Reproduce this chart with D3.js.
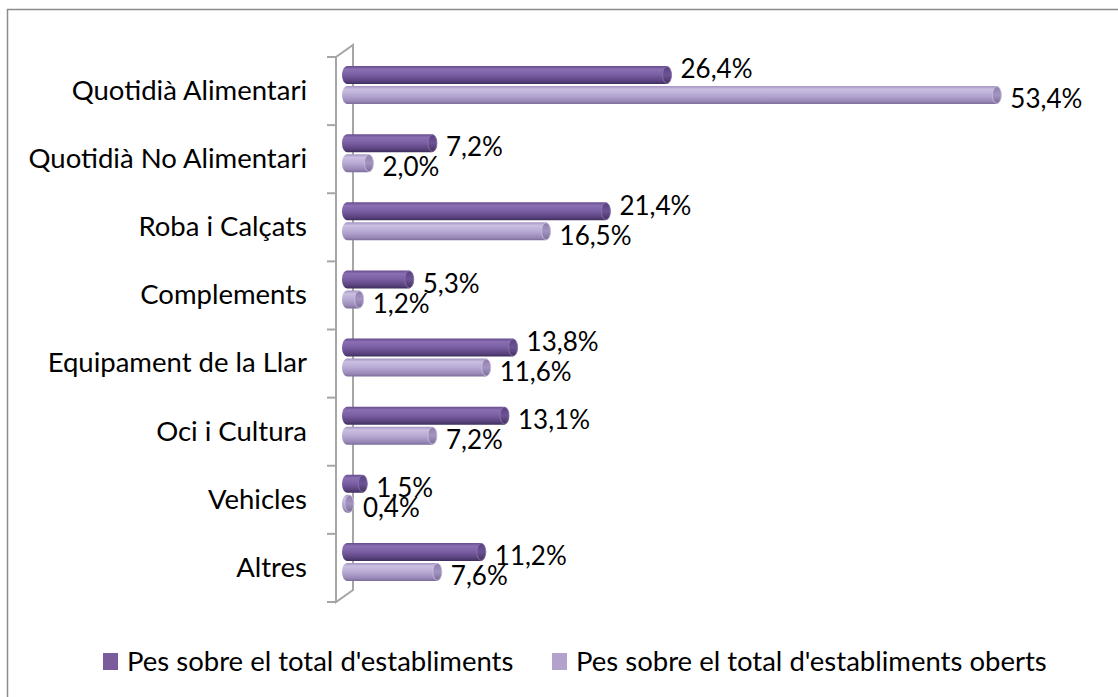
<!DOCTYPE html>
<html lang="ca">
<head>
<meta charset="utf-8">
<script src="https://d3js.org/d3.v7.min.js"></script>
<style>
  body { margin: 0; background: #fff; }
  text { font-family: Lato, "Open Sans", sans-serif; font-size: 26px; fill: #000; }
  .cat text, .leg text { font-size: 27.5px; }
  .frame { fill: none; stroke: #8c8c8c; stroke-width: 1.5px; }
  .wall { fill: none; stroke: #a6a6a6; stroke-width: 2px; }
</style>
</head>
<body>
<div id="chart"></div>
<script>
// data
var categories = ["Quotidià Alimentari", "Quotidià No Alimentari", "Roba i Calçats", "Complements",
                  "Equipament de la Llar", "Oci i Cultura", "Vehicles", "Altres"];
var pesTotal  = [26.4, 7.2, 21.4, 5.3, 13.8, 13.1, 1.5, 11.2];
var pesOberts = [53.4, 2.0, 16.5, 1.2, 11.6, 7.2, 0.4, 7.6];
var seriesNames = ["Pes sobre el total d'establiments", "Pes sobre el total d'establiments oberts"];

var width = 1118, height = 697;
var svg = d3.select("#chart").append("svg")
    .attr("width", width).attr("height", height);

var defs = svg.append("defs");
function grad(id, stops) {
  var g = defs.append("linearGradient").attr("id", id)
      .attr("x1", 0).attr("y1", 0).attr("x2", 0).attr("y2", 1);
  stops.forEach(function(s) { g.append("stop").attr("offset", s[0]).attr("stop-color", s[1]); });
}
grad("gDark",  [[0, "#654b8d"], [0.18, "#8a70b2"], [0.5, "#7a5ea3"], [0.85, "#58417c"], [1, "#3f2e5c"]]);
grad("gLight", [[0, "#a392c2"], [0.18, "#cbbfe1"], [0.5, "#b8aad4"], [0.85, "#9888b7"], [1, "#7c6d99"]]);
grad("cDark",  [[0, "#5a4281"], [0.5, "#6c5395"], [1, "#45325f"]]);
grad("cLight", [[0, "#8f7fad"], [0.5, "#a394c0"], [1, "#7c6d98"]]);

// outer frame (continues beyond the right and bottom edges)
svg.append("rect").attr("class", "frame")
    .attr("x", 7.5).attr("y", 9.5).attr("width", 1200).attr("height", 800);

var x = d3.scaleLinear().domain([0, 60]).range([349, 1082]);
var y = d3.scaleBand().domain(categories).range([57, 602]);
var depthX = 17, depthY = 12;
var front = 336;

// 3D wall: back line, front line, ticks and corners
var y0 = y.range()[0], y1 = y.range()[1];
svg.append("path").attr("class", "wall")
    .attr("d", "M" + front + "," + y0 + "L" + (front + depthX) + "," + (y0 - depthY) +
               "L" + (front + depthX) + "," + (y1 - depthY) + "L" + front + "," + y1 + "Z");
var bounds = categories.map(function(c) { return y(c); }).concat([y1]);
svg.selectAll(".tick-b").data(bounds).enter().append("line")
    .attr("class", "wall")
    .attr("x1", front - 9).attr("x2", front)
    .attr("y1", function(d) { return d; }).attr("y2", function(d) { return d; });

// category labels
var axis = svg.append("g").attr("class", "cat")
    .attr("transform", "translate(" + front + ",0)")
    .call(d3.axisLeft(y).tickSize(0).tickPadding(29));
axis.select(".domain").remove();
axis.attr("font-size", null).attr("font-family", null);
axis.selectAll("text").style("fill", "#000");

var fmt = function(v) { return d3.format(".1f")(v).replace(".", ",") + "%"; };
var barH = 18;

var series = [
  { key: seriesNames[0], values: pesTotal,  off: 9,  body: "url(#gDark)",  cap: "url(#cDark)",  edge: "#8d78ae" },
  { key: seriesNames[1], values: pesOberts, off: 29, body: "url(#gLight)", cap: "url(#cLight)", edge: "#cdc2df" }
];

series.forEach(function(s, si) {
  var g = svg.append("g");
  var rows = categories.map(function(c, i) { return { cat: c, v: s.values[i], i: i }; });
  g.selectAll("rect").data(rows).enter().append("rect")
      .attr("x", x(0) - 7)
      .attr("y", function(d) { return y(d.cat) + s.off; })
      .attr("width", function(d) { return x(d.v) - x(0) + 7; })
      .attr("height", barH)
      .attr("rx", 5).attr("ry", barH / 2)
      .attr("fill", s.body);
  g.selectAll("ellipse").data(rows).enter().append("ellipse")
      .attr("cx", function(d) { return x(d.v) - 4.5; })
      .attr("cy", function(d) { return y(d.cat) + s.off + barH / 2; })
      .attr("rx", 4.5).attr("ry", barH / 2 - 0.5)
      .attr("fill", s.cap).attr("stroke", s.edge).attr("stroke-width", 0.8);
  g.selectAll("text").data(rows).enter().append("text")
      .attr("x", function(d) { return x(d.v) + 9; })
      .attr("y", function(d) {
        if (si === 0) return y(d.cat) + (d.v >= 13.5 ? 12 : 22);
        return y(d.cat) + 42;
      })
      .attr("dy", "0.36em")
      .text(function(d) { return fmt(d.v); });
});

// legend
var legX = [103, 552];
var leg = svg.selectAll(".leg").data(series).enter().append("g")
    .attr("class", "leg")
    .attr("transform", function(d, i) { return "translate(" + legX[i] + ",653)"; });
leg.append("rect").attr("width", 15).attr("height", 17)
    .attr("fill", function(d, i) { return i === 0 ? "#7a5c9d" : "#b3a3cc"; });
leg.append("text").attr("x", 24).attr("y", 8.5).attr("dy", "0.36em")
    .text(function(d) { return d.key; });
</script>
</body>
</html>
